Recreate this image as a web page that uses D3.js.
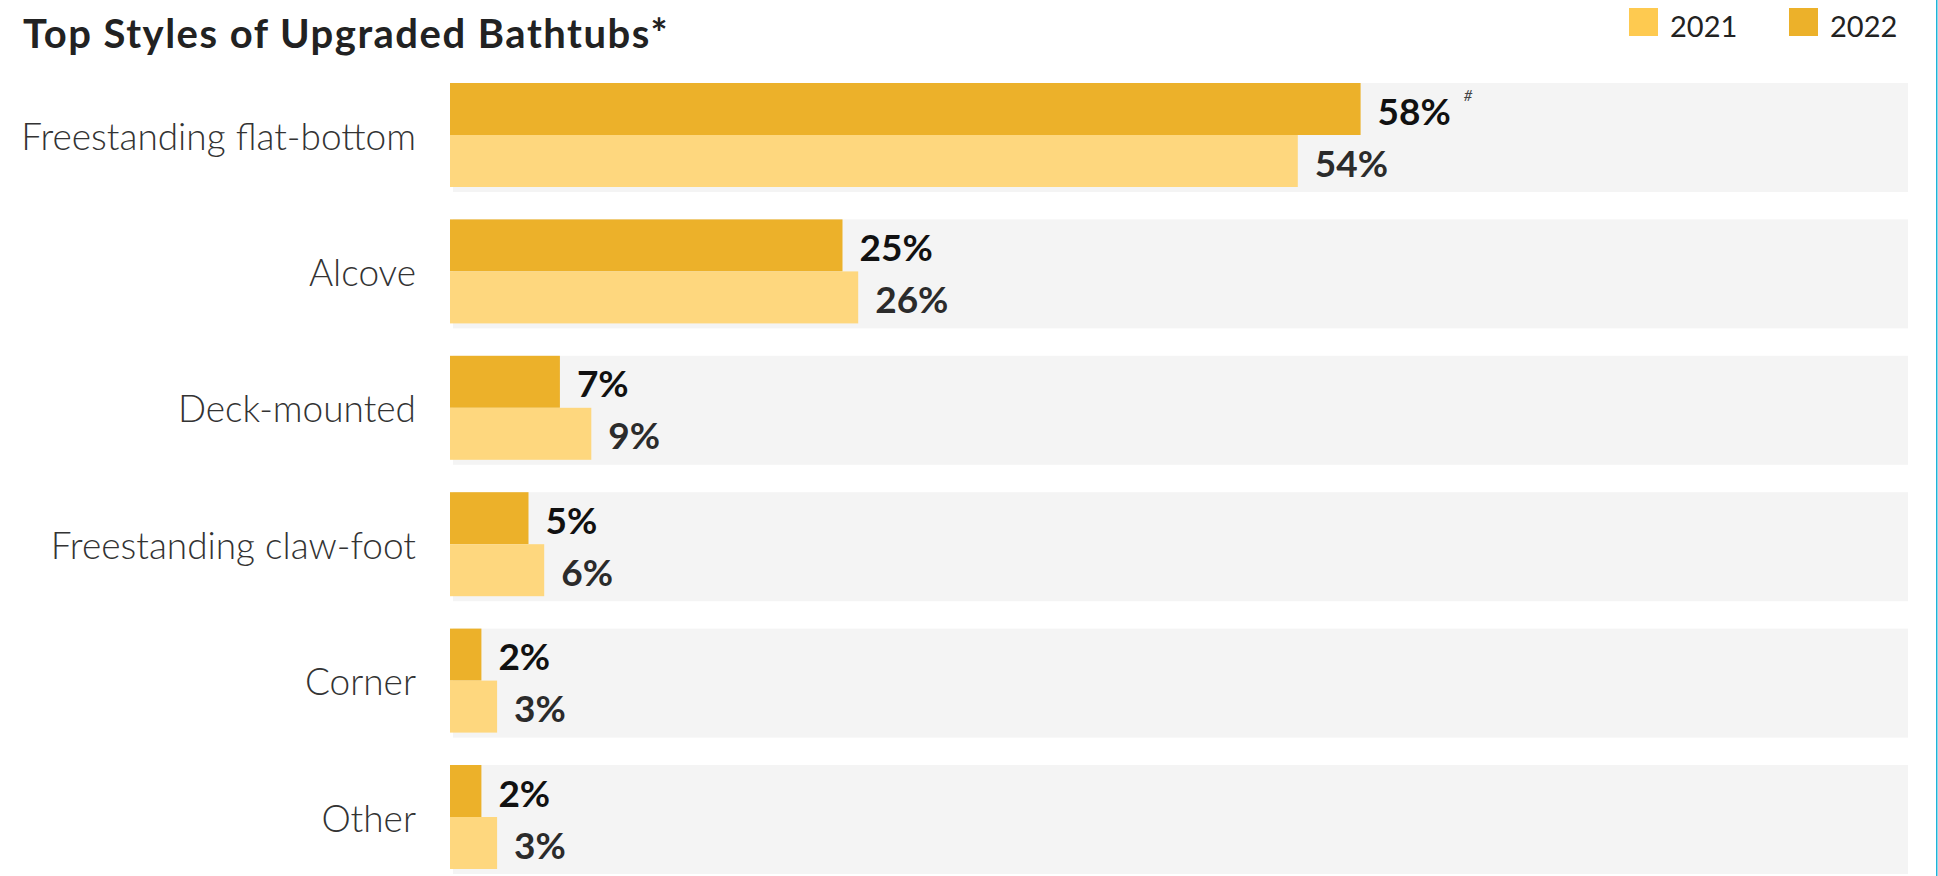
<!DOCTYPE html>
<html>
<head>
<meta charset="utf-8">
<script src="https://cdn.jsdelivr.net/npm/d3@7"></script>
<style>
  html, body { margin: 0; padding: 0; background: #fff; }
  svg { display: block; }
  text { font-family: Lato, "Noto Sans", sans-serif; }
</style>
</head>
<body>
<svg id="chart" width="1938" height="876"></svg>
<script>
const categories = ["Freestanding flat-bottom", "Alcove", "Deck-mounted", "Freestanding claw-foot", "Corner", "Other"];
const values2022 = [58, 25, 7, 5, 2, 2];
const values2021 = [54, 26, 9, 6, 3, 3];
const seriesNames = ["2021", "2022"];
const notes2022 = ["#", "", "", "", "", ""];
const titleText = "Top Styles of Upgraded Bathtubs*";

const colors = { "2021": "#FED77E", "2022": "#ECB12A" };
const legendColors = { "2021": "#FECA50", "2022": "#ECB12A" };

const W = 1938, H = 876;
const svg = d3.select("#chart");

const x = d3.scaleLinear().domain([0, 100]).range([450, 2020]);
const y = d3.scaleBand().domain(categories).range([83, 874]).paddingInner(0.2009).paddingOuter(0);
const ySub = d3.scaleBand().domain(["2022", "2021"]).range([0, 104]);

const rows = categories.map((c, i) => ({
  cat: c,
  vals: [
    { s: "2022", v: values2022[i], note: notes2022[i] },
    { s: "2021", v: values2021[i], note: "" }
  ]
}));

// title
svg.append("text")
  .attr("x", 23).attr("y", 48)
  .attr("font-size", 40).attr("font-weight", 700)
  .attr("letter-spacing", 1.5)
  .attr("fill", "#222")
  .text(titleText);

// legend
const legend = svg.append("g");
const legendX = { "2021": 1629, "2022": 1789 };
seriesNames.forEach(s => {
  legend.append("rect").attr("x", legendX[s]).attr("y", 8).attr("width", 29).attr("height", 28).attr("fill", legendColors[s]);
  legend.append("text").attr("x", legendX[s] + 41).attr("y", 37)
    .attr("font-size", 29).attr("fill", "#222").text(s);
});

const g = svg.append("g");
const grp = g.selectAll("g.row").data(rows).join("g")
  .attr("class", "row")
  .attr("transform", d => `translate(0,${y(d.cat)})`);

grp.append("rect")
  .attr("x", 453).attr("y", 0)
  .attr("width", 1908 - 453).attr("height", y.bandwidth())
  .attr("fill", "#F4F4F4");

grp.append("text")
  .attr("x", 416).attr("y", 52)
  .attr("text-anchor", "end").attr("dominant-baseline", "central")
  .attr("font-size", 37).attr("font-weight", 300).attr("fill", "#333")
  .text(d => d.cat);

grp.selectAll("rect.bar").data(d => d.vals).join("rect")
  .attr("class", "bar")
  .attr("x", x(0))
  .attr("y", d => ySub(d.s))
  .attr("width", d => x(d.v) - x(0))
  .attr("height", ySub.bandwidth())
  .attr("fill", d => colors[d.s]);

const lbl = grp.selectAll("text.val").data(d => d.vals).join("text")
  .attr("class", "val")
  .attr("x", d => x(d.v) + 17)
  .attr("y", d => ySub(d.s) + ySub.bandwidth() / 2 + 1)
  .attr("dominant-baseline", "central")
  .attr("font-size", 37).attr("font-weight", 700)
  .attr("fill", d => d.s === "2022" ? "#111" : "#2b2b2b")
  .text(d => d.v + "%");

lbl.each(function(d) {
  if (!d.note) return;
  const bb = this.getBBox();
  d3.select(this.parentNode).append("text")
    .attr("x", bb.x + bb.width + 13)
    .attr("y", ySub(d.s) + 18)
    .attr("font-size", 15).attr("font-style", "italic").attr("fill", "#444")
    .text(d.note);
});

// right edge accent line
svg.append("rect").attr("x", 1936).attr("y", 0).attr("width", 1.5).attr("height", H).attr("fill", "#1FB3D8");
</script>
</body>
</html>
